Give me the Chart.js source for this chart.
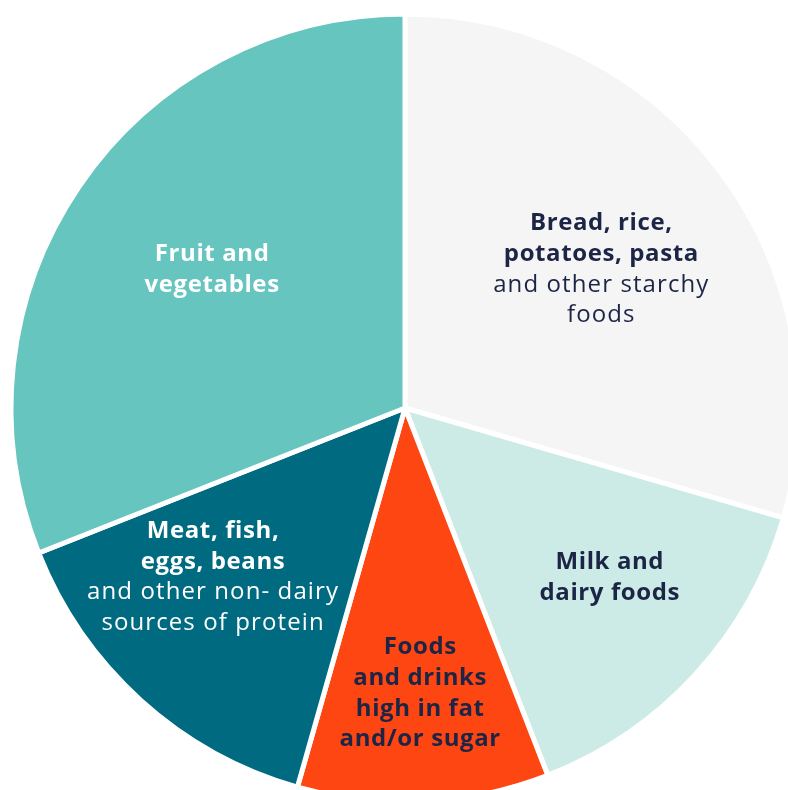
<!DOCTYPE html>
<html>
<head>
<meta charset="utf-8">
<script src="https://cdn.jsdelivr.net/npm/chart.js@4/dist/chart.umd.min.js"></script>
<style>
  html, body { margin: 0; padding: 0; background: #ffffff; overflow: hidden; width: 788px; height: 790px; }
  #wrap { position: absolute; left: 0; top: 0; width: 810px; height: 816px; }
</style>
</head>
<body>
<div id="wrap"><canvas id="c" width="810" height="816"></canvas></div>
<script>
// Categories (clockwise from 12 o'clock)
const categories = [
  "Bread, rice, potatoes, pasta and other starchy foods",
  "Milk and dairy foods",
  "Foods and drinks high in fat and/or sugar",
  "Meat, fish, eggs, beans and other non-dairy sources of protein",
  "Fruit and vegetables"
];
// Share of the plate (%)
const shares = [29.5, 14.6, 10.3, 14.6, 31.0];
// Label lines: bold part and regular part
const boldLines = [
  ["Bread, rice,", "potatoes, pasta"],
  ["Milk and", "dairy foods"],
  ["Foods", "and drinks", "high in fat", "and/or sugar"],
  ["Meat, fish,", "eggs, beans"],
  ["Fruit and", "vegetables"]
];
const regularLines = [
  ["and other starchy", "foods"],
  [],
  [],
  ["and other non- dairy", "sources of protein"],
  []
];

// Styles
const sliceColors = ["#f5f5f5", "#cceae6", "#fe4612", "#006a80", "#66c5bf"];
const textColors = ["#1c2545", "#1c2545", "#1c2545", "#ffffff", "#ffffff"];
// label placement inside each slice: fraction along the slice angle, fraction of radius
const labelAngleFrac = [0.512, 0.44, 0.49, 0.63, 0.516];
const labelRadiusFrac = [0.613, 0.672, 0.72, 0.646, 0.605];

const FONT = "'Open Sans', 'Noto Sans', sans-serif";
const FONT_SIZE = 24;
const LINE_H = 30.8;
const SPACING_BOLD = '0.6px';
const SPACING_REG = '1.1px';

const labelPlugin = {
  id: 'sliceLabels',
  afterDatasetsDraw(chart) {
    const ctx = chart.ctx;
    const meta = chart.getDatasetMeta(0);
    meta.data.forEach((arc, i) => {
      const p = arc.getProps(['x', 'y', 'startAngle', 'endAngle', 'outerRadius'], true);
      const a = p.startAngle + (p.endAngle - p.startAngle) * labelAngleFrac[i];
      const r = p.outerRadius * labelRadiusFrac[i];
      const cx = p.x + r * Math.cos(a);
      const cy = p.y + r * Math.sin(a) + 2;
      const lines = boldLines[i].map(t => ({t, b: true})).concat(regularLines[i].map(t => ({t, b: false})));
      const top = cy - (lines.length - 1) * LINE_H / 2;
      ctx.save();
      ctx.textAlign = 'center';
      ctx.textBaseline = 'middle';
      ctx.fillStyle = textColors[i];
      lines.forEach((ln, k) => {
        ctx.font = (ln.b ? '700 ' : '400 ') + FONT_SIZE + 'px ' + FONT;
        ctx.letterSpacing = ln.b ? SPACING_BOLD : SPACING_REG;
        ctx.fillText(ln.t, cx, top + k * LINE_H);
      });
      ctx.restore();
    });
  }
};

new Chart(document.getElementById('c'), {
  type: 'pie',
  data: {
    labels: categories,
    datasets: [{
      data: shares,
      backgroundColor: sliceColors,
      borderColor: '#ffffff',
      borderWidth: 5,
      hoverOffset: 0
    }]
  },
  options: {
    responsive: false,
    devicePixelRatio: 1,
    animation: false,
    radius: 394,
    layout: { padding: 0 },
    plugins: { legend: { display: false }, tooltip: { enabled: false } }
  },
  plugins: [labelPlugin]
});
</script>
</body>
</html>
